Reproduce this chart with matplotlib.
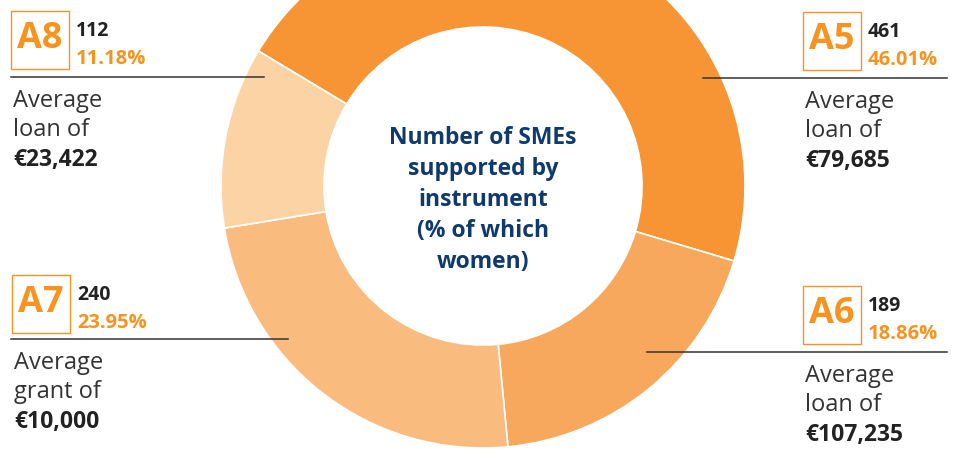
import matplotlib
matplotlib.use("Agg")
import matplotlib.pyplot as plt
from matplotlib.patches import Rectangle

# Data
instruments = ["A5", "A6", "A7", "A8"]
sme_counts = [461, 189, 240, 112]
women_pct = ["46.01%", "18.86%", "23.95%", "11.18%"]
aid_type = ["loan", "loan", "grant", "loan"]
avg_amount = ["€79,685", "€107,235", "€10,000", "€23,422"]
center_title = "Number of SMEs\nsupported by\ninstrument\n(% of which\nwomen)"

colors = ["#F79433", "#F8A85C", "#FABB7E", "#FCD3A5"]
ORANGE = "#F7931E"
NAVY = "#0E3A6E"
DARK = "#222222"
FONT = "Open Sans"

W, H = 957, 449
fig = plt.figure(figsize=(W / 100, H / 100), dpi=100)
ax = fig.add_axes([0, 0, 1, 1])

cx, cy = 483, H - 186
R = 262
ax.pie(sme_counts, colors=colors, startangle=149, counterclock=False,
       center=(cx, cy), radius=R, frame=True,
       wedgeprops=dict(width=R * 0.393, edgecolor="white", linewidth=1.2))
ax.set_xlim(0, W)
ax.set_ylim(0, H)
ax.set_aspect("equal")
ax.axis("off")

ax.text(cx, H - 200, center_title, ha="center", va="center", color=NAVY,
        fontsize=16.5, fontweight="bold", family=FONT, linespacing=1.38)

# label layout: (box_x, box_top, line_y, line_x0, line_x1)
layout = {
    "A8": (11, 11, 77, 11, 264),
    "A5": (803, 12, 78, 703, 947),
    "A7": (12, 275, 339, 11, 288),
    "A6": (803, 286, 352, 647, 947),
}

for name, n, pct, kind, amt in zip(instruments, sme_counts, women_pct, aid_type, avg_amount):
    bx, bt, ly, lx0, lx1 = layout[name]
    bw = 58
    ax.add_patch(Rectangle((bx, H - bt - bw), bw, bw, fill=False,
                           edgecolor=ORANGE, linewidth=1.0))
    ax.text(bx + bw / 2, H - bt - bw / 2 + 1, name, ha="center", va="center",
            color=ORANGE, fontsize=26, fontweight="bold", family=FONT)
    ax.text(bx + 65, H - bt - 20, str(n), ha="left", va="center",
            color=DARK, fontsize=14, fontweight="bold", family=FONT)
    ax.text(bx + 65, H - bt - 48, pct, ha="left", va="center",
            color=ORANGE, fontsize=14.5, fontweight="bold", family=FONT)
    ax.plot([lx0, lx1], [H - ly, H - ly], color="#333333", linewidth=1.1)
    tx = bx + 2
    ax.text(tx, H - (ly + 24), "Average", ha="left", va="center",
            color="#333333", fontsize=17, fontweight="normal", family=FONT)
    ax.text(tx, H - (ly + 53), f"{kind} of", ha="left", va="center",
            color="#333333", fontsize=17, fontweight="normal", family=FONT)
    ax.text(tx, H - (ly + 83), amt, ha="left", va="center",
            color=DARK, fontsize=16.5, fontweight="bold", family=FONT)

fig.savefig("out.png", dpi=100)
